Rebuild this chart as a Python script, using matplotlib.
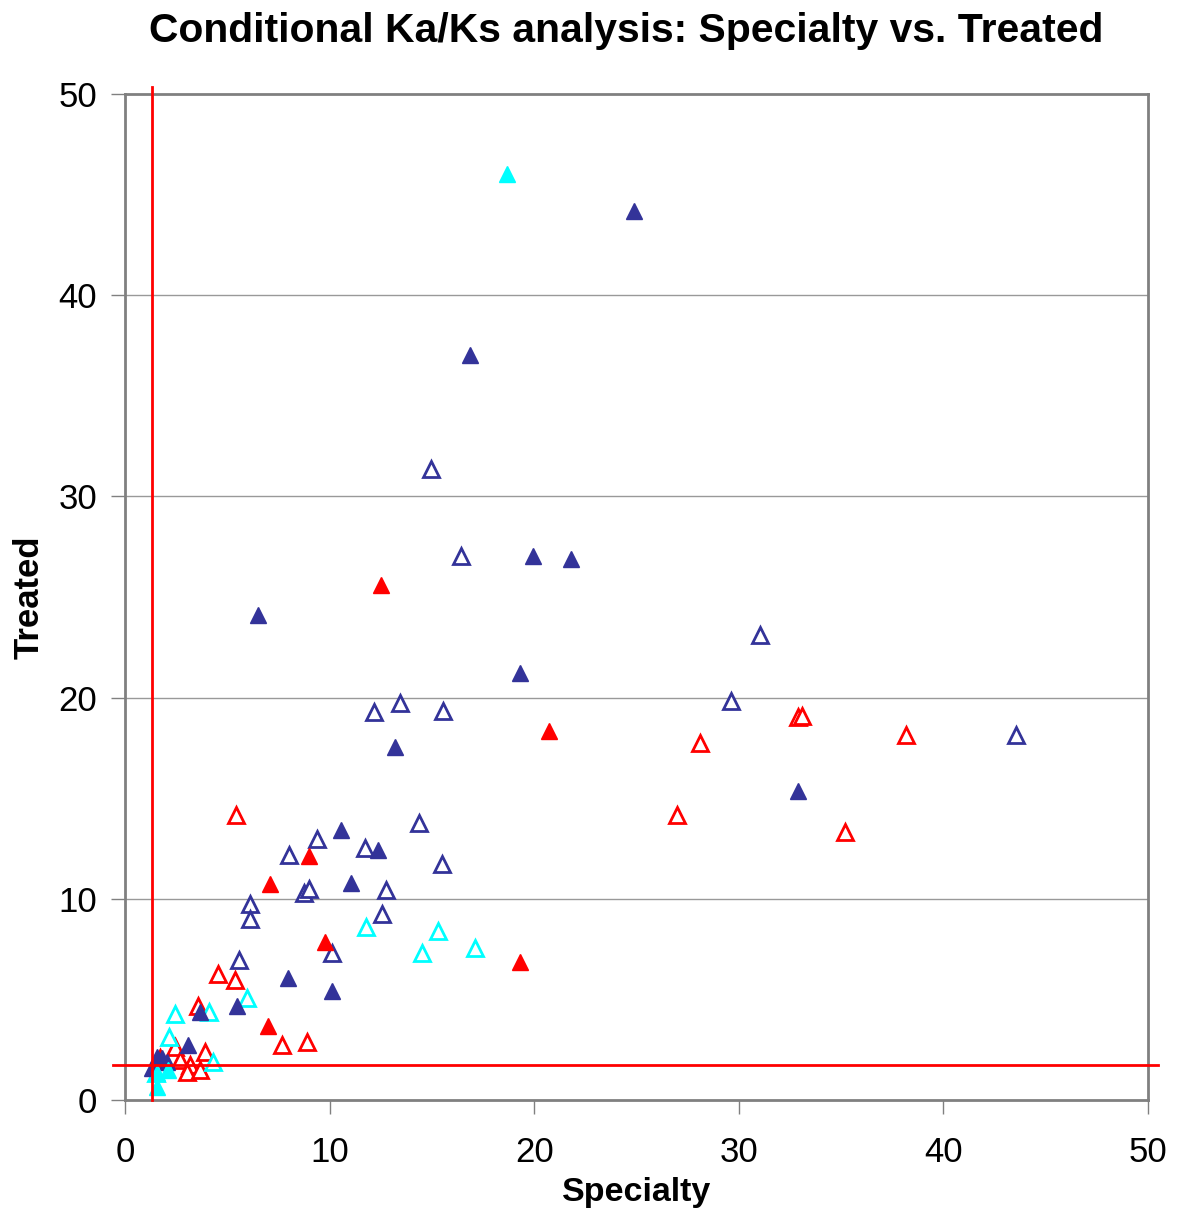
import matplotlib
matplotlib.use("Agg")
import matplotlib.pyplot as plt

plt.rcParams['font.family'] = ['Liberation Sans', 'DejaVu Sans']

# Navy filled
navy_f_x = [24.88, 16.86, 19.94, 21.80, 6.50, 19.30, 13.20, 32.90, 10.56, 12.37, 11.05, 7.97, 10.12, 5.47, 3.67, 3.10, 1.55, 1.79, 2.04, 1.30]
navy_f_y = [44.19, 37.04, 27.06, 26.90, 24.13, 21.20, 17.53, 15.34, 13.40, 12.41, 10.77, 6.08, 5.42, 4.65, 4.37, 2.73, 2.15, 2.07, 1.91, 1.57]
# Red filled
red_f_x = [12.51, 20.72, 8.99, 7.09, 9.78, 19.31, 6.99]
red_f_y = [25.62, 18.32, 12.12, 10.72, 7.85, 6.85, 3.67]
# Cyan filled
cyan_f_x = [18.67, 2.12, 1.55, 1.55]
cyan_f_y = [46.03, 1.49, 1.33, 0.66]
# Navy open
navy_o_x = [14.96, 16.42, 31.04, 29.62, 43.55, 12.17, 13.44, 15.54, 14.37, 9.38, 8.02, 11.73, 15.49, 12.76, 8.75, 9.00, 6.11, 6.11, 12.56, 10.12, 5.57]
navy_o_y = [31.38, 27.06, 23.09, 19.81, 18.12, 19.27, 19.71, 19.31, 13.75, 12.96, 12.16, 12.51, 11.72, 10.43, 10.28, 10.48, 9.73, 8.99, 9.24, 7.30, 6.95]
# Red open
red_o_x = [5.43, 26.98, 28.10, 32.90, 33.10, 38.17, 35.19, 4.55, 5.38, 7.67, 8.90, 3.57, 3.91, 2.44, 2.69, 3.18, 3.01, 3.67, 1.71]
red_o_y = [14.15, 14.15, 17.73, 19.02, 19.07, 18.12, 13.31, 6.26, 5.96, 2.73, 2.88, 4.67, 2.40, 2.65, 1.99, 1.74, 1.41, 1.49, 2.08]
# Cyan open
cyan_o_x = [11.78, 15.30, 17.10, 14.52, 5.96, 2.44, 4.10, 2.17, 4.32, 1.50]
cyan_o_y = [8.59, 8.39, 7.55, 7.30, 5.06, 4.27, 4.37, 3.15, 1.91, 1.34]

thr_x = 1.32
thr_y = 1.74

NAVY = '#333399'
RED = '#FF0000'
CYAN = '#00FFFF'

fig = plt.figure(figsize=(12, 12.22), dpi=100)
ax = fig.add_axes([125/1200, 1 - 1100/1222, (1148-125)/1200, (1100-94)/1222])

ax.set_xlim(0, 50)
ax.set_ylim(0, 50)
ax.set_xticks(range(0, 51, 10))
ax.set_yticks(range(0, 51, 10))
for y in range(10, 50, 10):
    ax.axhline(y, color='#999999', lw=1.0, zorder=0)

ms_f = 12.0
ms_o = 11.5
mew = 2.0
ax.plot(navy_o_x, navy_o_y, '^', ms=ms_o, mfc='white', mec=NAVY, mew=mew, ls='none', zorder=3)
ax.plot(red_o_x, red_o_y, '^', ms=ms_o, mfc='white', mec=RED, mew=mew, ls='none', zorder=3)
ax.plot(cyan_o_x, cyan_o_y, '^', ms=ms_o, mfc='white', mec=CYAN, mew=mew, ls='none', zorder=3)
ax.plot(navy_f_x, navy_f_y, '^', ms=ms_f, mfc=NAVY, mec=NAVY, mew=1.0, ls='none', zorder=4)
ax.plot(red_f_x, red_f_y, '^', ms=ms_f, mfc=RED, mec=RED, mew=1.0, ls='none', zorder=4)
ax.plot(cyan_f_x, cyan_f_y, '^', ms=ms_f, mfc=CYAN, mec=CYAN, mew=1.0, ls='none', zorder=4)

ax.plot([thr_x, thr_x], [0, 50.35], color=RED, lw=2, clip_on=False, zorder=5)
ax.plot([-0.6, 50.5], [thr_y, thr_y], color=RED, lw=2, clip_on=False, zorder=5)

for s in ax.spines.values():
    s.set_color('#808080')
    s.set_linewidth(2)
ax.tick_params(direction='out', length=10, width=1, color='#808080', labelsize=25)
ax.tick_params(axis='x', pad=16)
ax.tick_params(axis='y', pad=10)

ax.set_xlabel('Specialty', fontsize=24.5, fontweight='bold', labelpad=6)
ax.set_ylabel('Treated', fontsize=25, fontweight='bold', labelpad=9)
fig.text(626/1200, 1 - 31/1222, 'Conditional Ka/Ks analysis: Specialty vs. Treated',
         ha='center', va='center', fontsize=29.4, fontweight='bold')

fig.savefig('out.png', dpi=100)
